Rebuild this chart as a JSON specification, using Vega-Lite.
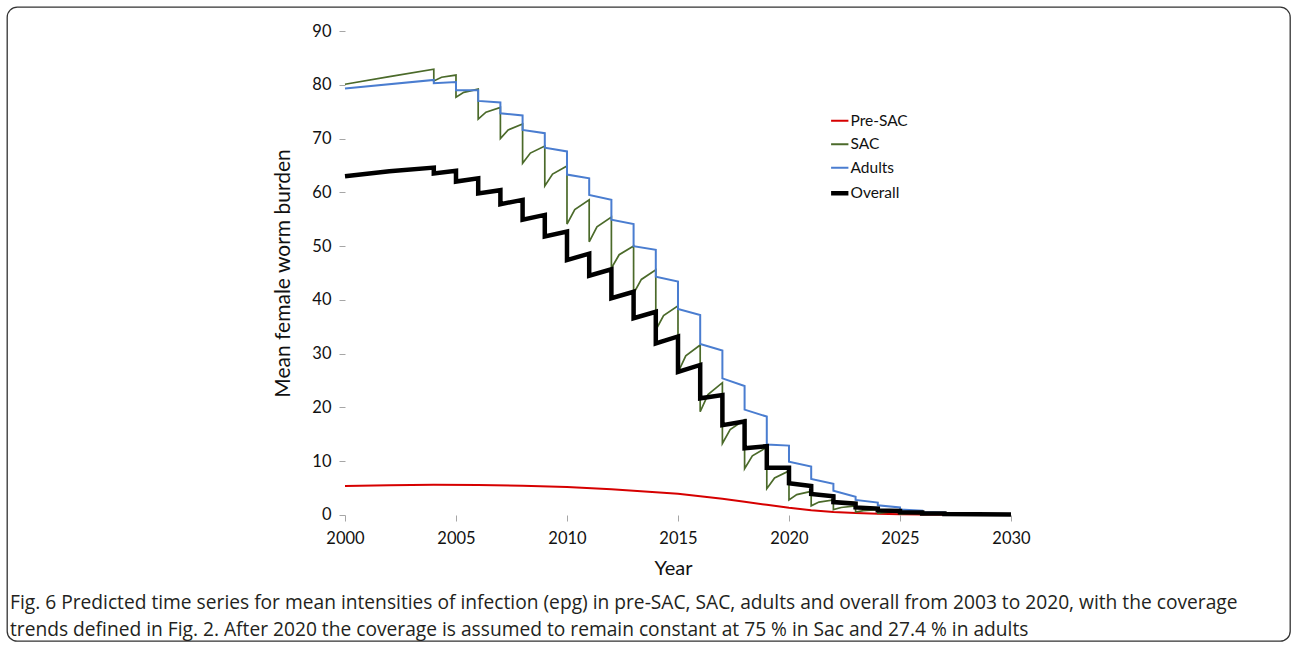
{
  "$schema": "https://vega.github.io/schema/vega-lite/v6.json",
  "width": 1283,
  "height": 634,
  "autosize": {"type": "none"},
  "padding": {"left": 7, "top": 7, "right": 2, "bottom": 6},
  "background": "white",
  "title": {
    "text": "Fig. 6 Predicted time series for mean intensities of infection (epg) in pre-SAC, SAC, adults and overall from 2003 to 2020, with the coverage",
    "subtitle": "trends defined in Fig. 2. After 2020 the coverage is assumed to remain constant at 75 % in Sac and 27.4 % in adults",
    "orient": "bottom", "anchor": "start", "frame": "group", "offset": -47, "dx": 3,
    "font": "Open Sans", "fontSize": 19.2, "fontWeight": "normal", "color": "#231F20",
    "subtitleFont": "Open Sans", "subtitleFontSize": 19.2, "subtitleColor": "#231F20", "subtitlePadding": 8
  },
  "config": {
    "view": {"stroke": "#333333", "strokeWidth": 1.3, "cornerRadius": 10},
    "font": "Lato",
    "legend": {"orient": "none", "legendX": 825, "legendY": 106, "symbolType": "stroke", "symbolSize": 300, "labelFont": "Lato", "labelFontSize": 15.5, "labelColor": "#111111", "rowPadding": 6.5, "padding": 0, "labelOffset": 3}
  },
  "data": {"values": [
    {"s": "Pre-SAC", "t": 2000, "v": 5.4, "i": 0},
    {"s": "Pre-SAC", "t": 2002, "v": 5.55, "i": 1},
    {"s": "Pre-SAC", "t": 2004, "v": 5.62, "i": 2},
    {"s": "Pre-SAC", "t": 2006, "v": 5.6, "i": 3},
    {"s": "Pre-SAC", "t": 2008, "v": 5.45, "i": 4},
    {"s": "Pre-SAC", "t": 2010, "v": 5.22, "i": 5},
    {"s": "Pre-SAC", "t": 2012, "v": 4.8, "i": 6},
    {"s": "Pre-SAC", "t": 2014, "v": 4.25, "i": 7},
    {"s": "Pre-SAC", "t": 2015, "v": 3.95, "i": 8},
    {"s": "Pre-SAC", "t": 2016, "v": 3.5, "i": 9},
    {"s": "Pre-SAC", "t": 2017, "v": 3.0, "i": 10},
    {"s": "Pre-SAC", "t": 2018, "v": 2.45, "i": 11},
    {"s": "Pre-SAC", "t": 2019, "v": 1.9, "i": 12},
    {"s": "Pre-SAC", "t": 2020, "v": 1.35, "i": 13},
    {"s": "Pre-SAC", "t": 2021, "v": 0.9, "i": 14},
    {"s": "Pre-SAC", "t": 2022, "v": 0.58, "i": 15},
    {"s": "Pre-SAC", "t": 2023, "v": 0.37, "i": 16},
    {"s": "Pre-SAC", "t": 2024, "v": 0.23, "i": 17},
    {"s": "Pre-SAC", "t": 2025, "v": 0.14, "i": 18},
    {"s": "Pre-SAC", "t": 2026, "v": 0.09, "i": 19},
    {"s": "Pre-SAC", "t": 2028, "v": 0.04, "i": 20},
    {"s": "Pre-SAC", "t": 2030, "v": 0.02, "i": 21},

    {"s": "SAC", "t": 2000, "v": 80.1, "i": 0},
    {"s": "SAC", "t": 2002, "v": 81.5, "i": 1},
    {"s": "SAC", "t": 2004, "v": 82.9, "i": 2},
    {"s": "SAC", "t": 2004, "v": 80.7, "i": 3},
    {"s": "SAC", "t": 2004.35, "v": 81.4, "i": 4},
    {"s": "SAC", "t": 2005, "v": 81.8, "i": 5},
    {"s": "SAC", "t": 2005, "v": 77.7, "i": 6},
    {"s": "SAC", "t": 2005.35, "v": 78.6, "i": 7},
    {"s": "SAC", "t": 2006, "v": 79.2, "i": 8},
    {"s": "SAC", "t": 2006, "v": 73.6, "i": 9},
    {"s": "SAC", "t": 2006.35, "v": 74.9, "i": 10},
    {"s": "SAC", "t": 2007, "v": 75.8, "i": 11},
    {"s": "SAC", "t": 2007, "v": 70.0, "i": 12},
    {"s": "SAC", "t": 2007.35, "v": 71.6, "i": 13},
    {"s": "SAC", "t": 2008, "v": 72.7, "i": 14},
    {"s": "SAC", "t": 2008, "v": 65.4, "i": 15},
    {"s": "SAC", "t": 2008.35, "v": 67.3, "i": 16},
    {"s": "SAC", "t": 2009, "v": 68.6, "i": 17},
    {"s": "SAC", "t": 2009, "v": 61.2, "i": 18},
    {"s": "SAC", "t": 2009.35, "v": 63.4, "i": 19},
    {"s": "SAC", "t": 2010, "v": 64.9, "i": 20},
    {"s": "SAC", "t": 2010, "v": 54.1, "i": 21},
    {"s": "SAC", "t": 2010.35, "v": 56.8, "i": 22},
    {"s": "SAC", "t": 2011, "v": 58.6, "i": 23},
    {"s": "SAC", "t": 2011, "v": 50.8, "i": 24},
    {"s": "SAC", "t": 2011.35, "v": 53.6, "i": 25},
    {"s": "SAC", "t": 2012, "v": 55.4, "i": 26},
    {"s": "SAC", "t": 2012, "v": 45.9, "i": 27},
    {"s": "SAC", "t": 2012.35, "v": 48.4, "i": 28},
    {"s": "SAC", "t": 2013, "v": 50.0, "i": 29},
    {"s": "SAC", "t": 2013, "v": 41.2, "i": 30},
    {"s": "SAC", "t": 2013.35, "v": 43.8, "i": 31},
    {"s": "SAC", "t": 2014, "v": 45.6, "i": 32},
    {"s": "SAC", "t": 2014, "v": 34.4, "i": 33},
    {"s": "SAC", "t": 2014.35, "v": 37.1, "i": 34},
    {"s": "SAC", "t": 2015, "v": 38.9, "i": 35},
    {"s": "SAC", "t": 2015, "v": 26.5, "i": 36},
    {"s": "SAC", "t": 2015.35, "v": 29.6, "i": 37},
    {"s": "SAC", "t": 2016, "v": 31.6, "i": 38},
    {"s": "SAC", "t": 2016, "v": 19.2, "i": 39},
    {"s": "SAC", "t": 2016.35, "v": 22.4, "i": 40},
    {"s": "SAC", "t": 2017, "v": 24.6, "i": 41},
    {"s": "SAC", "t": 2017, "v": 13.3, "i": 42},
    {"s": "SAC", "t": 2017.35, "v": 15.9, "i": 43},
    {"s": "SAC", "t": 2018, "v": 17.7, "i": 44},
    {"s": "SAC", "t": 2018, "v": 8.6, "i": 45},
    {"s": "SAC", "t": 2018.35, "v": 11.0, "i": 46},
    {"s": "SAC", "t": 2019, "v": 12.6, "i": 47},
    {"s": "SAC", "t": 2019, "v": 4.9, "i": 48},
    {"s": "SAC", "t": 2019.35, "v": 6.9, "i": 49},
    {"s": "SAC", "t": 2020, "v": 8.2, "i": 50},
    {"s": "SAC", "t": 2020, "v": 2.8, "i": 51},
    {"s": "SAC", "t": 2020.35, "v": 3.8, "i": 52},
    {"s": "SAC", "t": 2021, "v": 4.4, "i": 53},
    {"s": "SAC", "t": 2021, "v": 1.7, "i": 54},
    {"s": "SAC", "t": 2021.35, "v": 2.4, "i": 55},
    {"s": "SAC", "t": 2022, "v": 2.8, "i": 56},
    {"s": "SAC", "t": 2022, "v": 1.0, "i": 57},
    {"s": "SAC", "t": 2022.35, "v": 1.4, "i": 58},
    {"s": "SAC", "t": 2023, "v": 1.7, "i": 59},
    {"s": "SAC", "t": 2023, "v": 0.55, "i": 60},
    {"s": "SAC", "t": 2023.35, "v": 0.8, "i": 61},
    {"s": "SAC", "t": 2024, "v": 1.0, "i": 62},
    {"s": "SAC", "t": 2024, "v": 0.3, "i": 63},
    {"s": "SAC", "t": 2024.35, "v": 0.48, "i": 64},
    {"s": "SAC", "t": 2025, "v": 0.6, "i": 65},
    {"s": "SAC", "t": 2025, "v": 0.18, "i": 66},
    {"s": "SAC", "t": 2025.35, "v": 0.28, "i": 67},
    {"s": "SAC", "t": 2026, "v": 0.35, "i": 68},
    {"s": "SAC", "t": 2026, "v": 0.1, "i": 69},
    {"s": "SAC", "t": 2026.35, "v": 0.16, "i": 70},
    {"s": "SAC", "t": 2027, "v": 0.2, "i": 71},
    {"s": "SAC", "t": 2027, "v": 0.06, "i": 72},
    {"s": "SAC", "t": 2030, "v": 0.04, "i": 73},

    {"s": "Adults", "t": 2000, "v": 79.3, "i": 0},
    {"s": "Adults", "t": 2004, "v": 80.9, "i": 1},
    {"s": "Adults", "t": 2004, "v": 80.3, "i": 2},
    {"s": "Adults", "t": 2005, "v": 80.5, "i": 3},
    {"s": "Adults", "t": 2005, "v": 79.0, "i": 4},
    {"s": "Adults", "t": 2006, "v": 79.0, "i": 5},
    {"s": "Adults", "t": 2006, "v": 77.0, "i": 6},
    {"s": "Adults", "t": 2007, "v": 76.7, "i": 7},
    {"s": "Adults", "t": 2007, "v": 74.7, "i": 8},
    {"s": "Adults", "t": 2008, "v": 74.3, "i": 9},
    {"s": "Adults", "t": 2008, "v": 71.6, "i": 10},
    {"s": "Adults", "t": 2009, "v": 71.0, "i": 11},
    {"s": "Adults", "t": 2009, "v": 68.3, "i": 12},
    {"s": "Adults", "t": 2010, "v": 67.6, "i": 13},
    {"s": "Adults", "t": 2010, "v": 63.3, "i": 14},
    {"s": "Adults", "t": 2011, "v": 62.6, "i": 15},
    {"s": "Adults", "t": 2011, "v": 59.5, "i": 16},
    {"s": "Adults", "t": 2012, "v": 58.6, "i": 17},
    {"s": "Adults", "t": 2012, "v": 54.9, "i": 18},
    {"s": "Adults", "t": 2013, "v": 54.1, "i": 19},
    {"s": "Adults", "t": 2013, "v": 50.0, "i": 20},
    {"s": "Adults", "t": 2014, "v": 49.3, "i": 21},
    {"s": "Adults", "t": 2014, "v": 44.3, "i": 22},
    {"s": "Adults", "t": 2015, "v": 43.4, "i": 23},
    {"s": "Adults", "t": 2015, "v": 38.3, "i": 24},
    {"s": "Adults", "t": 2016, "v": 37.2, "i": 25},
    {"s": "Adults", "t": 2016, "v": 31.8, "i": 26},
    {"s": "Adults", "t": 2017, "v": 30.6, "i": 27},
    {"s": "Adults", "t": 2017, "v": 25.4, "i": 28},
    {"s": "Adults", "t": 2018, "v": 24.0, "i": 29},
    {"s": "Adults", "t": 2018, "v": 19.6, "i": 30},
    {"s": "Adults", "t": 2019, "v": 18.3, "i": 31},
    {"s": "Adults", "t": 2019, "v": 13.1, "i": 32},
    {"s": "Adults", "t": 2020, "v": 12.9, "i": 33},
    {"s": "Adults", "t": 2020, "v": 9.9, "i": 34},
    {"s": "Adults", "t": 2021, "v": 9.0, "i": 35},
    {"s": "Adults", "t": 2021, "v": 6.7, "i": 36},
    {"s": "Adults", "t": 2022, "v": 5.8, "i": 37},
    {"s": "Adults", "t": 2022, "v": 4.5, "i": 38},
    {"s": "Adults", "t": 2023, "v": 3.4, "i": 39},
    {"s": "Adults", "t": 2023, "v": 2.8, "i": 40},
    {"s": "Adults", "t": 2024, "v": 2.3, "i": 41},
    {"s": "Adults", "t": 2024, "v": 1.8, "i": 42},
    {"s": "Adults", "t": 2025, "v": 1.4, "i": 43},
    {"s": "Adults", "t": 2025, "v": 1.0, "i": 44},
    {"s": "Adults", "t": 2026, "v": 0.8, "i": 45},
    {"s": "Adults", "t": 2026, "v": 0.55, "i": 46},
    {"s": "Adults", "t": 2027, "v": 0.45, "i": 47},
    {"s": "Adults", "t": 2027, "v": 0.3, "i": 48},
    {"s": "Adults", "t": 2030, "v": 0.1, "i": 49},

    {"s": "Overall", "t": 2000, "v": 63.0, "i": 0},
    {"s": "Overall", "t": 2002, "v": 63.9, "i": 1},
    {"s": "Overall", "t": 2004, "v": 64.6, "i": 2},
    {"s": "Overall", "t": 2004, "v": 63.5, "i": 3},
    {"s": "Overall", "t": 2005, "v": 64.0, "i": 4},
    {"s": "Overall", "t": 2005, "v": 62.0, "i": 5},
    {"s": "Overall", "t": 2006, "v": 62.6, "i": 6},
    {"s": "Overall", "t": 2006, "v": 59.8, "i": 7},
    {"s": "Overall", "t": 2007, "v": 60.4, "i": 8},
    {"s": "Overall", "t": 2007, "v": 57.8, "i": 9},
    {"s": "Overall", "t": 2008, "v": 58.6, "i": 10},
    {"s": "Overall", "t": 2008, "v": 54.9, "i": 11},
    {"s": "Overall", "t": 2009, "v": 55.8, "i": 12},
    {"s": "Overall", "t": 2009, "v": 51.8, "i": 13},
    {"s": "Overall", "t": 2010, "v": 52.7, "i": 14},
    {"s": "Overall", "t": 2010, "v": 47.4, "i": 15},
    {"s": "Overall", "t": 2011, "v": 48.6, "i": 16},
    {"s": "Overall", "t": 2011, "v": 44.5, "i": 17},
    {"s": "Overall", "t": 2012, "v": 45.7, "i": 18},
    {"s": "Overall", "t": 2012, "v": 40.3, "i": 19},
    {"s": "Overall", "t": 2013, "v": 41.5, "i": 20},
    {"s": "Overall", "t": 2013, "v": 36.6, "i": 21},
    {"s": "Overall", "t": 2014, "v": 37.8, "i": 22},
    {"s": "Overall", "t": 2014, "v": 31.9, "i": 23},
    {"s": "Overall", "t": 2015, "v": 33.2, "i": 24},
    {"s": "Overall", "t": 2015, "v": 26.6, "i": 25},
    {"s": "Overall", "t": 2016, "v": 27.9, "i": 26},
    {"s": "Overall", "t": 2016, "v": 21.7, "i": 27},
    {"s": "Overall", "t": 2017, "v": 22.3, "i": 28},
    {"s": "Overall", "t": 2017, "v": 16.7, "i": 29},
    {"s": "Overall", "t": 2018, "v": 17.4, "i": 30},
    {"s": "Overall", "t": 2018, "v": 12.4, "i": 31},
    {"s": "Overall", "t": 2019, "v": 12.8, "i": 32},
    {"s": "Overall", "t": 2019, "v": 8.8, "i": 33},
    {"s": "Overall", "t": 2020, "v": 8.8, "i": 34},
    {"s": "Overall", "t": 2020, "v": 5.9, "i": 35},
    {"s": "Overall", "t": 2021, "v": 5.4, "i": 36},
    {"s": "Overall", "t": 2021, "v": 3.9, "i": 37},
    {"s": "Overall", "t": 2022, "v": 3.5, "i": 38},
    {"s": "Overall", "t": 2022, "v": 2.4, "i": 39},
    {"s": "Overall", "t": 2023, "v": 2.1, "i": 40},
    {"s": "Overall", "t": 2023, "v": 1.4, "i": 41},
    {"s": "Overall", "t": 2024, "v": 1.2, "i": 42},
    {"s": "Overall", "t": 2024, "v": 0.85, "i": 43},
    {"s": "Overall", "t": 2025, "v": 0.75, "i": 44},
    {"s": "Overall", "t": 2025, "v": 0.5, "i": 45},
    {"s": "Overall", "t": 2026, "v": 0.45, "i": 46},
    {"s": "Overall", "t": 2026, "v": 0.3, "i": 47},
    {"s": "Overall", "t": 2027, "v": 0.28, "i": 48},
    {"s": "Overall", "t": 2027, "v": 0.2, "i": 49},
    {"s": "Overall", "t": 2030, "v": 0.08, "i": 50}
  ]},
  "encoding": {
    "x": {"field": "t", "type": "quantitative",
      "scale": {"domain": [1984.775, 2042.568], "nice": false, "zero": false},
      "axis": {"title": "Year", "values": [2000, 2005, 2010, 2015, 2020, 2025, 2030], "format": "d", "offset": -126, "domain": false, "grid": false, "tickColor": "#A6A6A6", "tickSize": 6, "labelFont": "Lato", "labelFontSize": 16.5, "labelColor": "#111111", "labelPadding": 9, "titleFont": "Lato", "titleFontSize": 20, "titleFontWeight": "normal", "titleColor": "#111111", "titleX": 666, "titlePadding": 12}},
    "y": {"field": "v", "type": "quantitative",
      "scale": {"domain": [-23.43, 94.463], "nice": false, "zero": false},
      "axis": {"title": "Mean female worm burden", "values": [0, 10, 20, 30, 40, 50, 60, 70, 80, 90], "offset": -338, "domain": false, "grid": false, "tickColor": "#A6A6A6", "tickSize": 6, "labelFont": "Lato", "labelFontSize": 16.5, "labelColor": "#111111", "labelPadding": 8, "titleFont": "Lato", "titleFontSize": 21, "titleFontWeight": "normal", "titleColor": "#111111", "titleY": 266, "titlePadding": 18}}
  },
  "layer": [
    {
      "data": {"values": [{"a": 1}]},
      "mark": {"type": "rule", "color": "#A6A6A6", "strokeWidth": 1.3},
      "encoding": {"x": {"datum": 2000}, "x2": {"datum": 2030}, "y": {"datum": 0}}
    },
    {
      "data": {"values": [{"a": 1}]},
      "mark": {"type": "rule", "color": "#A6A6A6", "strokeWidth": 1.3},
      "encoding": {"x": {"datum": 2000}, "y": {"datum": 0}, "y2": {"datum": 90}}
    },
    {
      "transform": [{"filter": "datum.s === 'Pre-SAC'"}],
      "mark": {"type": "line", "strokeJoin": "miter", "strokeWidth": 2},
      "encoding": {
        "color": {"field": "s", "type": "nominal", "scale": {"domain": ["Pre-SAC", "SAC", "Adults", "Overall"], "range": ["#D60000", "#4B6A2A", "#4A7DD0", "#000000"]},
          "legend": {"title": null, "encode": {"symbols": {"update": {"strokeWidth": {"signal": "datum.value === 'Overall' ? 4.5 : 2"}}}}}},
        "order": {"field": "i", "type": "quantitative"}
      }
    },
    {
      "transform": [{"filter": "datum.s === 'SAC'"}],
      "mark": {"type": "line", "strokeJoin": "miter", "strokeWidth": 1.7},
      "encoding": {
        "color": {"field": "s", "type": "nominal"},
        "order": {"field": "i", "type": "quantitative"}
      }
    },
    {
      "transform": [{"filter": "datum.s === 'Adults'"}],
      "mark": {"type": "line", "strokeJoin": "miter", "strokeWidth": 2},
      "encoding": {
        "color": {"field": "s", "type": "nominal"},
        "order": {"field": "i", "type": "quantitative"}
      }
    },
    {
      "transform": [{"filter": "datum.s === 'Overall'"}],
      "mark": {"type": "line", "strokeJoin": "miter", "strokeWidth": 4.5},
      "encoding": {
        "color": {"field": "s", "type": "nominal"},
        "order": {"field": "i", "type": "quantitative"}
      }
    }
  ]
}
